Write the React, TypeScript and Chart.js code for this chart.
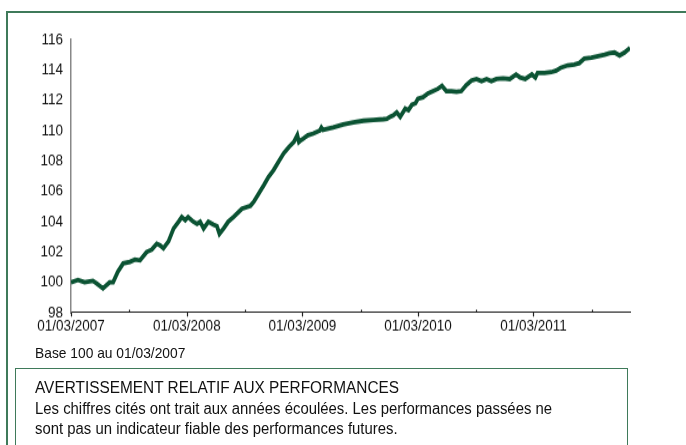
import React, { useEffect, useRef } from "react";
import { Chart, registerables } from "chart.js";

Chart.register(...registerables);

const dates: string[] = [
  "2007-03-01","2007-03-23","2007-04-13","2007-05-09","2007-05-20","2007-06-10","2007-07-01","2007-07-12",
  "2007-07-27","2007-08-13","2007-09-03","2007-09-19","2007-10-05","2007-10-26","2007-11-11","2007-11-27",
  "2007-12-07","2007-12-18","2008-01-03","2008-01-19","2008-02-04","2008-02-14","2008-02-25","2008-03-05",
  "2008-03-21","2008-04-02","2008-04-12","2008-04-23","2008-05-08","2008-05-24","2008-06-04","2008-06-12",
  "2008-06-25","2008-07-10","2008-07-26","2008-08-22","2008-09-18","2008-09-28","2008-10-14","2008-10-30",
  "2008-11-14","2008-11-30","2008-12-16","2009-01-01","2009-01-17","2009-02-02","2009-02-13","2009-02-18",
  "2009-02-23","2009-03-03","2009-03-09","2009-03-19","2009-04-04","2009-04-25","2009-04-30","2009-05-05",
  "2009-06-06","2009-07-08","2009-08-09","2009-09-10","2009-10-11","2009-11-12","2009-11-23","2009-12-03",
  "2009-12-13","2009-12-24","2010-01-04","2010-01-20","2010-01-30","2010-02-10","2010-02-21","2010-03-01",
  "2010-03-17","2010-04-02","2010-04-18","2010-05-03","2010-05-16","2010-05-30","2010-06-15","2010-07-01",
  "2010-07-16","2010-08-01","2010-08-17","2010-09-02","2010-09-18","2010-10-04","2010-10-19","2010-11-04",
  "2010-11-25","2010-12-16","2011-01-05","2011-01-18","2011-02-03","2011-02-24","2011-03-07","2011-03-14",
  "2011-04-05","2011-04-26","2011-05-12","2011-05-27","2011-06-17","2011-07-08","2011-07-24","2011-08-09",
  "2011-08-31","2011-09-21","2011-10-12","2011-10-27","2011-11-12","2011-11-28","2011-12-14","2011-12-31",
];

const values: number[] = [
  100.0,100.15,100.0,100.1,99.95,99.6,100.0,100.0,
  100.7,101.25,101.35,101.5,101.45,102.0,102.15,102.55,
  102.45,102.25,102.7,103.55,104.0,104.3,104.1,104.3,
  104.0,103.85,104.0,103.55,104.0,103.8,103.7,103.2,
  103.55,104.0,104.3,104.85,105.05,105.3,105.85,106.4,
  106.95,107.4,107.95,108.5,108.9,109.25,109.7,109.25,
  109.35,109.45,109.55,109.7,109.8,110.0,110.2,110.05,
  110.2,110.4,110.55,110.65,110.7,110.75,110.78,110.9,
  111.0,111.2,110.9,111.45,111.35,111.7,111.8,112.1,
  112.2,112.45,112.6,112.75,112.95,112.6,112.6,112.55,
  112.6,113.0,113.3,113.4,113.25,113.4,113.25,113.4,
  113.45,113.4,113.7,113.5,113.4,113.7,113.5,113.8,
  113.8,113.85,113.95,114.15,114.3,114.35,114.45,114.75,
  114.8,114.9,115.0,115.1,115.15,114.95,115.15,115.45,
];

const majorTickDates: string[] = ["2007-03-01","2008-03-01","2009-03-01","2010-03-01","2011-03-01"];
const majorTickLabels: string[] = ["01/03/2007","01/03/2008","01/03/2009","01/03/2010","01/03/2011"];
const minorTickDates: string[] = ["2007-09-01","2008-09-01","2009-09-01","2010-09-01","2011-09-01"];
const axisStart = "2007-03-01";
const axisEnd = "2011-12-31";
const yMin = 98;
const yMax = 116;
const yStep = 2;

const baseNote = "Base 100 au 01/03/2007";
const warnTitle = "AVERTISSEMENT RELATIF AUX PERFORMANCES";
const warnLine1 = "Les chiffres cités ont trait aux années écoulées. Les performances passées ne";
const warnLine2 = "sont pas un indicateur fiable des performances futures.";

const toDay = (s: string) => {
  const [y, m, d] = s.split("-").map(Number);
  return Date.UTC(y, m - 1, d) / 86400000;
};

const TICK_FONT = "'Liberation Sans', Arial, sans-serif";
const BODY_FONT = "'Liberation Sans', Arial, sans-serif";
const GREEN_BORDER = "#3f7a5a";

// the reference is vertically stretched; draw at a smaller height and stretch with CSS
const CANVAS_W = 686;
const CANVAS_H = 288;
const DISPLAY_H = 345;

const tickMarks = {
  id: "tickMarks",
  afterDraw(chart: any) {
    const ctx = chart.ctx;
    const xs = chart.scales.x;
    const bottom = chart.chartArea.bottom;
    ctx.save();
    ctx.strokeStyle = "#222";
    ctx.lineWidth = 1.2;
    majorTickDates.forEach((d) => {
      const x = Math.round(xs.getPixelForValue(toDay(d))) + 0.5;
      ctx.beginPath();
      ctx.moveTo(x, bottom);
      ctx.lineTo(x, bottom + 3.3);
      ctx.stroke();
    });
    minorTickDates.forEach((d) => {
      const x = Math.round(xs.getPixelForValue(toDay(d))) + 0.5;
      ctx.beginPath();
      ctx.moveTo(x, bottom - 2.5);
      ctx.lineTo(x, bottom);
      ctx.stroke();
    });
    ctx.restore();
  },
};

export default function App() {
  const ref = useRef<HTMLCanvasElement | null>(null);

  useEffect(() => {
    if (!ref.current) return;
    const points = dates.map((d, i) => ({ x: toDay(d), y: values[i] }));
    const labelMap: Record<number, string> = {};
    majorTickDates.forEach((d, i) => (labelMap[toDay(d)] = majorTickLabels[i]));
    const chart = new Chart(ref.current, {
      type: "line",
      data: {
        datasets: [
          {
            data: points,
            borderColor: "#0b5333",
            borderWidth: 3.8,
            pointRadius: 0,
            tension: 0,
            fill: false,
          },
        ],
      },
      options: {
        animation: false,
        responsive: false,
        maintainAspectRatio: false,
        devicePixelRatio: 1,
        layout: { padding: { left: 0, right: 56, top: 33, bottom: 0 } },
        plugins: { legend: { display: false }, tooltip: { enabled: false } },
        scales: {
          x: {
            type: "linear",
            min: toDay(axisStart),
            max: toDay(axisEnd),
            afterBuildTicks: (scale: any) => {
              scale.ticks = [...majorTickDates, ...minorTickDates]
                .map((d) => ({ value: toDay(d) }))
                .sort((a, b) => a.value - b.value);
            },
            afterFit: (scale: any) => {
              scale.height = 27;
            },
            grid: { display: false, drawTicks: false },
            border: { display: true, color: "#222", width: 1.1 },
            ticks: {
              autoSkip: false,
              maxRotation: 0,
              padding: 3,
              color: "#111",
              font: { family: TICK_FONT, size: 13.5 },
              callback: (v: any) => labelMap[v as number] ?? "",
            },
          },
          y: {
            min: yMin,
            max: yMax,
            afterFit: (scale: any) => {
              scale.width = 71;
            },
            grid: { display: false, drawTicks: false },
            border: { display: true, color: "#888", width: 1.5 },
            ticks: {
              stepSize: yStep,
              padding: 8,
              color: "#111",
              font: { family: TICK_FONT, size: 13.5 },
            },
          },
        },
      },
      plugins: [tickMarks],
    });
    return () => chart.destroy();
  }, []);

  const textStyle: React.CSSProperties = {
    position: "absolute",
    fontFamily: BODY_FONT,
    lineHeight: "18px",
    color: "#111",
    whiteSpace: "nowrap",
    transform: "scaleY(1.1)",
    transformOrigin: "left center",
  };

  return (
    <div
      style={{
        position: "absolute",
        left: 0,
        top: 0,
        width: 686,
        height: 445,
        overflow: "hidden",
        background: "#fff",
      }}
    >
      <div
        style={{
          position: "absolute",
          left: 6,
          top: 11,
          width: 800,
          height: 600,
          border: `2px solid ${GREEN_BORDER}`,
        }}
      />
      <canvas
        ref={ref}
        width={CANVAS_W}
        height={CANVAS_H}
        style={{ position: "absolute", left: 0, top: 0, width: CANVAS_W, height: DISPLAY_H }}
      />
      <div style={{ ...textStyle, fontSize: 13.8, left: 35, top: 345 }}>{baseNote}</div>
      <div
        style={{
          position: "absolute",
          left: 15,
          top: 368,
          width: 611,
          height: 200,
          border: `1.5px solid ${GREEN_BORDER}`,
        }}
      />
      <div style={{ ...textStyle, fontSize: 15.4, left: 35, top: 378 }}>{warnTitle}</div>
      <div style={{ ...textStyle, fontSize: 14.9, left: 35, top: 399 }}>{warnLine1}</div>
      <div style={{ ...textStyle, fontSize: 14.9, left: 35, top: 419 }}>{warnLine2}</div>
    </div>
  );
}
